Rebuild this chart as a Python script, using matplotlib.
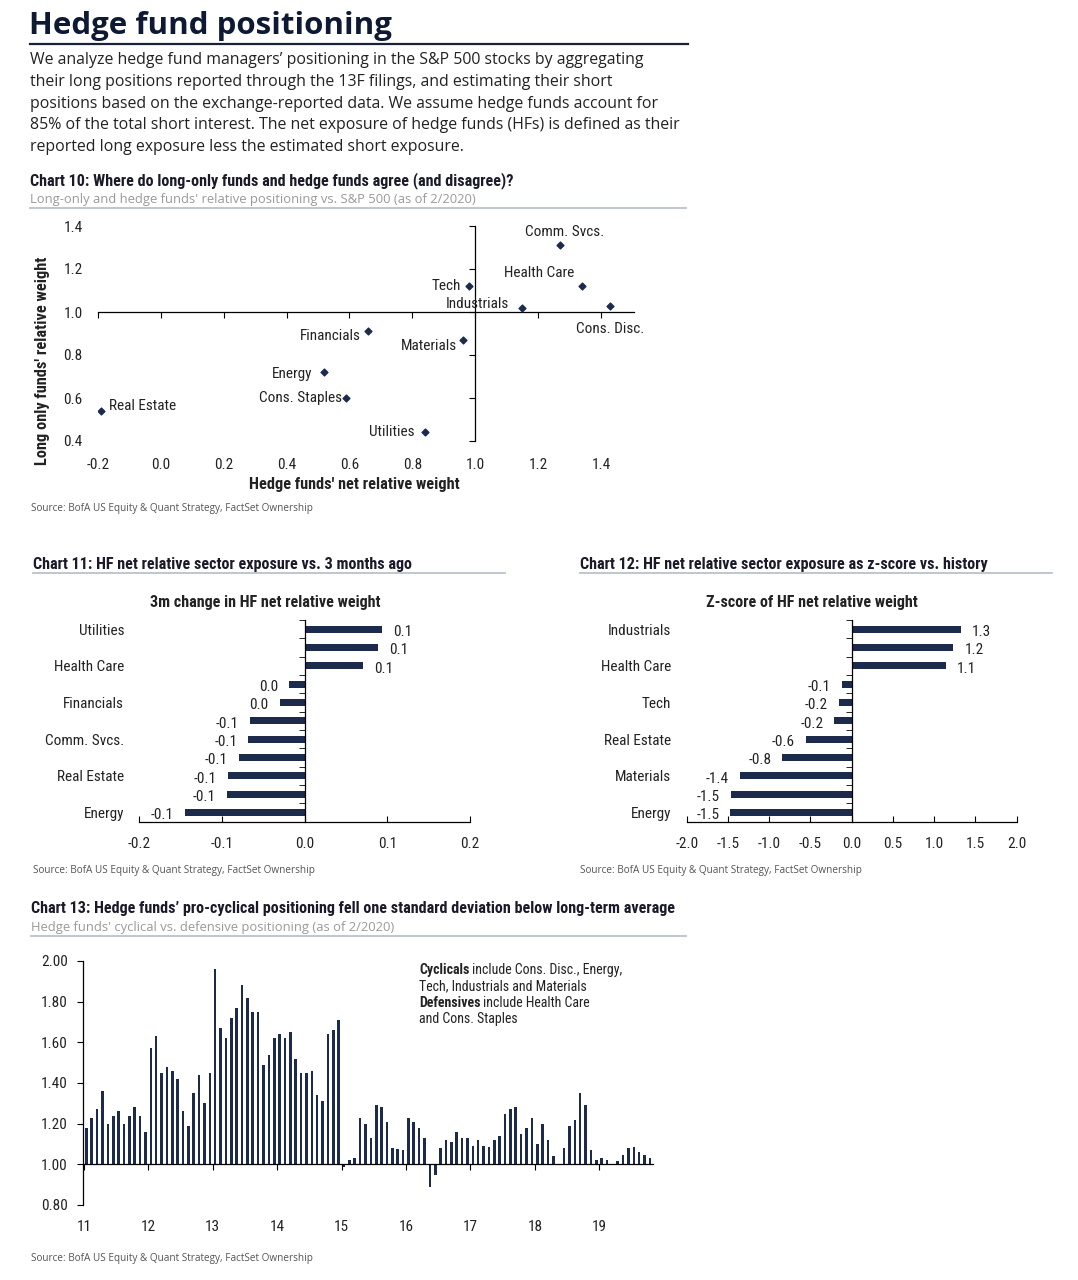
import matplotlib
matplotlib.use("Agg")
import matplotlib.pyplot as plt
from matplotlib.lines import Line2D
import numpy as np

W, H = 1078, 1280

NARROW = ["Liberation Sans Narrow", "Roboto Condensed", "DejaVu Sans Condensed", "Roboto", "DejaVu Sans"]
BODY = ["Open Sans", "DejaVu Sans"]
plt.rcParams["font.family"] = NARROW
plt.rcParams["axes.linewidth"] = 0.9
plt.rcParams["axes.unicode_minus"] = False

NAVY = "#1c2a4c"
INK = "#222222"
GREY = "#9a9a9a"
RULE = "#b9c1cd"

# ---------------- data ----------------
page_title = "Hedge fund positioning"
intro_lines = [
    "We analyze hedge fund managers\u2019 positioning in the S&P 500 stocks by aggregating",
    "their long positions reported through the 13F filings, and estimating their short",
    "positions based on the exchange-reported data. We assume hedge funds account for",
    "85% of the total short interest. The net exposure of hedge funds (HFs) is defined as their",
    "reported long exposure less the estimated short exposure.",
]
source = "Source: BofA US Equity & Quant Strategy, FactSet Ownership"

# chart 10 - scatter
c10_title = "Chart 10: Where do long-only funds and hedge funds agree (and disagree)?"
c10_sub = "Long-only and hedge funds' relative positioning vs. S&P 500 (as of 2/2020)"
c10_sectors = ["Comm. Svcs.", "Health Care", "Tech", "Industrials", "Cons. Disc.",
               "Financials", "Materials", "Energy", "Cons. Staples", "Real Estate", "Utilities"]
c10_hf_net = [1.27, 1.34, 0.98, 1.15, 1.43, 0.66, 0.96, 0.52, 0.59, -0.19, 0.84]
c10_long_only = [1.31, 1.12, 1.12, 1.02, 1.03, 0.91, 0.87, 0.72, 0.60, 0.54, 0.44]
c10_xticks = [-0.2, 0.0, 0.2, 0.4, 0.6, 0.8, 1.0, 1.2, 1.4]
c10_yticks = [0.4, 0.6, 0.8, 1.0, 1.2, 1.4]

# chart 11 - 3m change
c11_title = "Chart 11: HF net relative sector exposure vs. 3 months ago"
c11_inner = "3m change in HF net relative weight"
c11_labels = ["Utilities", "", "Health Care", "", "Financials", "",
              "Comm. Svcs.", "", "Real Estate", "", "Energy"]
c11_change = [0.094, 0.089, 0.071, -0.019, -0.030, -0.066, -0.068, -0.080, -0.093, -0.094, -0.145]
c11_xticks = [-0.2, -0.1, 0.0, 0.1, 0.2]

# chart 12 - z-score
c12_title = "Chart 12: HF net relative sector exposure as z-score vs. history"
c12_inner = "Z-score of HF net relative weight"
c12_labels = ["Industrials", "", "Health Care", "", "Tech", "",
              "Real Estate", "", "Materials", "", "Energy"]
c12_z = [1.32, 1.23, 1.14, -0.12, -0.16, -0.21, -0.56, -0.84, -1.36, -1.46, -1.47]
c12_xticks = [-2.0, -1.5, -1.0, -0.5, 0.0, 0.5, 1.0, 1.5, 2.0]

# chart 13 - cyclical vs defensive, monthly from Jan 2011
c13_title = "Chart 13: Hedge funds\u2019 pro-cyclical positioning fell one standard deviation below long-term average"
c13_sub = "Hedge funds' cyclical vs. defensive positioning (as of 2/2020)"
c13_ratio = [
    1.18, 1.23, 1.27, 1.36, 1.20, 1.24, 1.26, 1.20, 1.24, 1.28, 1.24, 1.16,
    1.57, 1.63, 1.45, 1.48, 1.46, 1.42, 1.26, 1.19, 1.35, 1.44, 1.30, 1.45,
    1.96, 1.67, 1.62, 1.72, 1.77, 1.88, 1.82, 1.75, 1.75, 1.49, 1.54, 1.62,
    1.64, 1.62, 1.65, 1.52, 1.45, 1.45, 1.46, 1.34, 1.31, 1.64, 1.66, 1.71,
    0.985, 1.02, 1.03, 1.23, 1.20, 1.13, 1.29, 1.28, 1.21, 1.08, 1.075, 1.07,
    1.23, 1.21, 1.18, 1.13, 0.89, 0.95, 1.08, 1.12, 1.11, 1.16, 1.13, 1.13,
    1.09, 1.12, 1.09, 1.085, 1.12, 1.14, 1.25, 1.27, 1.28, 1.15, 1.18, 1.23,
    1.10, 1.20, 1.12, 1.04, 1.003, 1.08, 1.19, 1.22, 1.35, 1.29, 1.07, 1.02,
    1.03, 1.02, 0.995, 1.015, 1.045, 1.08, 1.085, 1.06, 1.045, 1.03,
]
c13_years = [11, 12, 13, 14, 15, 16, 17, 18, 19]
c13_yticks = [0.8, 1.0, 1.2, 1.4, 1.6, 1.8, 2.0]
c13_note = [("Cyclicals", " include Cons. Disc., Energy,"),
            ("", "Tech, Industrials and Materials"),
            ("Defensives", " include Health Care"),
            ("", "and Cons. Staples")]

# label placement for chart 10 (pixel offsets from the point, alignment)
c10_label_pos = {
    "Comm. Svcs.": (5, 13, "center"), "Health Care": (-8, 13, "right"),
    "Tech": (-8, 0, "right"), "Industrials": (-13, 4, "right"),
    "Cons. Disc.": (0, -23, "center"), "Financials": (-8, -5, "right"),
    "Materials": (-6, -6, "right"), "Energy": (-12, -2, "right"),
    "Cons. Staples": (-4, 0, "right"), "Real Estate": (8, 5, "left"),
    "Utilities": (-10, 0, "right"),
}

fig = plt.figure(figsize=(W / 100, H / 100), dpi=100)


def px_rect(l, t, r, b):
    return [l / W, 1 - b / H, (r - l) / W, (b - t) / H]


def ftext(x, y, s, **kw):
    kw.setdefault("va", "center")
    return fig.text(x / W, 1 - y / H, s, **kw)


def hrule(x0, x1, y, color, lw):
    fig.add_artist(Line2D([x0 / W, x1 / W], [1 - y / H, 1 - y / H], color=color, lw=lw,
                          transform=fig.transFigure))


# ---------------- header ----------------
ftext(29, 26, page_title, family=BODY, fontsize=22.5, weight="bold", color="#0e1a33")
hrule(30, 688, 44, "#1a2238", 1.6)
for i, line in enumerate(intro_lines):
    ftext(30, 60 + i * 21.8, line, family=BODY, fontsize=11.45, color=INK)


def chart_header(x, y, title, sub=None, x1=686):
    ftext(x, y, title, fontsize=11.6, weight="bold", color="#1a1a2a")
    if sub:
        ftext(x, y + 18, sub, family=BODY, fontsize=9.4, color=GREY)
        hrule(x, x1, y + 27, RULE, 1.3)
    else:
        hrule(x, x1, y + 9, RULE, 1.3)


def source_note(x, y):
    ftext(x, y, source, family=BODY, fontsize=7.2, color="#555555")


# ---------------- chart 10 ----------------
chart_header(30, 181, c10_title, c10_sub)
ax = fig.add_axes(px_rect(98, 226, 634, 441))
ax.scatter(c10_hf_net, c10_long_only, marker="D", s=12, color=NAVY, zorder=3)
for name, xv, yv in zip(c10_sectors, c10_hf_net, c10_long_only):
    dx, dy, ha = c10_label_pos[name]
    ax.annotate(name, (xv, yv), xytext=(dx, dy), textcoords="offset pixels",
                ha=ha, va="center", fontsize=11, color=INK)
ax.set_xlim(-0.2, 1.505)
ax.set_ylim(0.4, 1.4)
ax.set_xticks(c10_xticks)
ax.set_yticks(c10_yticks)
ax.xaxis.set_major_formatter("{x:.1f}")
ax.yaxis.set_major_formatter("{x:.1f}")
ax.spines[["left", "bottom"]].set_visible(False)
ax.spines["right"].set_position(("data", 1.0))
ax.spines["top"].set_position(("data", 1.0))
ax.tick_params(axis="x", bottom=False, top=True, labelbottom=True, labeltop=False,
               direction="in", length=4, pad=12, labelsize=11, labelcolor=INK)
ax.tick_params(axis="y", left=False, right=True, labelleft=True, labelright=False,
               direction="in", length=4, pad=11, labelsize=11, labelcolor=INK)
ax.patch.set_visible(False)
ftext(43, 361, "Long only funds' relative weight", rotation=90, ha="center",
      fontsize=11.8, weight="bold", color=INK)
ftext(354, 484, "Hedge funds' net relative weight", ha="center", fontsize=11.7,
      weight="bold", color=INK)
source_note(31, 509)


# ---------------- charts 11 & 12 ----------------
def fmt_label(v):
    s = f"{v:.1f}"
    return "0.0" if s == "-0.0" else s


def sector_bars(rect, values, labels, xticks, xlim):
    ax = fig.add_axes(rect)
    pos = np.arange(len(values))
    ax.barh(pos, values, height=0.38, color=NAVY, zorder=2)
    for p, v in zip(pos, values):
        ax.annotate(fmt_label(v), (v, p), xytext=(8 if v >= 0 else -8, -2),
                    textcoords="offset points", ha="left" if v >= 0 else "right",
                    va="center", fontsize=11, color=INK)
    ax.set_xlim(*xlim)
    ax.set_ylim(len(values) - 0.5, -0.5)
    ax.set_xticks(xticks)
    ax.xaxis.set_major_formatter("{x:.1f}")
    ax.set_yticks(pos)
    ax.set_yticklabels(labels)
    ax.set_yticks(np.arange(len(values) + 1) - 0.5, minor=True)
    ax.spines[["left", "top"]].set_visible(False)
    ax.spines["right"].set_position(("data", 0))
    ax.tick_params(axis="y", which="major", left=False, right=False, labelleft=True,
                   pad=7.5, labelsize=11, labelcolor=INK)
    ax.tick_params(axis="y", which="minor", left=False, right=True, direction="in", length=4)
    ax.tick_params(axis="x", direction="in", length=4, pad=11, labelsize=11, labelcolor=INK)
    ax.patch.set_visible(False)
    return ax


chart_header(33, 564, c11_title, x1=505)
ftext(265, 602, c11_inner, ha="center", fontsize=11.6, weight="bold", color=INK)
sector_bars(px_rect(139.3, 620, 470, 821.7), c11_change, c11_labels, c11_xticks, (-0.2, 0.2))
source_note(33, 870)

chart_header(580, 564, c12_title, x1=1052)
ftext(812, 602, c12_inner, ha="center", fontsize=11.6, weight="bold", color=INK)
sector_bars(px_rect(686.7, 620, 1016.7, 821.7), c12_z, c12_labels, c12_xticks, (-2.0, 2.0))
source_note(580, 870)

# ---------------- chart 13 ----------------
chart_header(31, 909, c13_title, c13_sub)
ax = fig.add_axes(px_rect(83, 961, 653, 1205))
vals = np.array(c13_ratio)
xs = c13_years[0] + (np.arange(len(vals)) + 0.45) / 12
ax.bar(xs, vals - 1.0, bottom=1.0, width=0.48 / 12, color=NAVY, zorder=2)
ax.set_xlim(10.985, 19.835)
ax.set_ylim(0.8, 2.0)
ax.set_xticks(c13_years)
ax.set_yticks(c13_yticks)
ax.yaxis.set_major_formatter("{x:.2f}")
ax.spines[["right", "bottom"]].set_visible(False)
ax.spines["top"].set_position(("data", 1.0))
ax.tick_params(axis="x", bottom=False, top=True, labelbottom=True, labeltop=False,
               direction="in", length=4, pad=11, labelsize=11, labelcolor=INK)
ax.tick_params(axis="y", direction="out", length=4, pad=7, labelsize=11, labelcolor=INK)
ax.patch.set_visible(False)

for i, (bold, rest) in enumerate(c13_note):
    y = 970 + i * 16.4
    if bold:
        t = ftext(419, y, bold, fontsize=10, weight="bold", color=INK)
        ax.annotate(rest, xy=(1, 0.5), xycoords=t, va="center", ha="left",
                    fontsize=10, color=INK)
    else:
        ftext(419, y, rest, fontsize=10, color=INK)
source_note(31, 1258)

fig.savefig("out.png", dpi=100, facecolor="white")
